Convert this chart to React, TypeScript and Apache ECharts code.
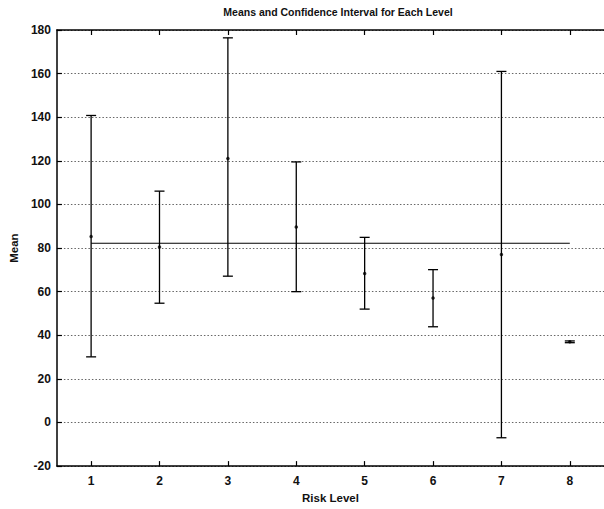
import React, { useEffect, useRef } from "react";
import * as echarts from "echarts";

const levels = [1, 2, 3, 4, 5, 6, 7, 8];
const means = [85.3, 80.5, 121.1, 89.7, 68.3, 57.1, 77, 37];
const lowers = [30.1, 54.7, 67.1, 60, 52, 43.9, -7, 36.6];
const uppers = [140.8, 106.1, 176.4, 119.5, 84.9, 70.1, 161, 37.4];
const overallMean = 82.2;
const xTicks = [1, 2, 3, 4, 5, 6, 7, 8];

const FONT = "Liberation Sans, Arial, Helvetica, sans-serif";

export default function App() {
  const ref = useRef<HTMLDivElement>(null);
  useEffect(() => {
    if (!ref.current) return;
    const chart = echarts.init(ref.current, undefined, { renderer: "svg" });
    const errData = levels.map((l, i) => [l, lowers[i], uppers[i]]);
    chart.setOption({
      animation: false,
      backgroundColor: "#ffffff",
      title: {
        text: "Means and Confidence Interval for Each Level",
        left: 333,
        textAlign: "center",
        top: 1,
        textStyle: { fontFamily: FONT, fontSize: 10.5, fontWeight: "bold", color: "#111" },
      },
      grid: { left: 53, right: -9, top: 30, bottom: 33 },
      xAxis: [
        {
          type: "value",
          min: 0.5,
          max: 8.5,
          name: "Risk Level",
          nameLocation: "middle",
          nameGap: 24,
          nameTextStyle: { fontFamily: FONT, fontSize: 11.5, fontWeight: "bold", color: "#111" },
          axisLine: { show: true, onZero: false, lineStyle: { color: "#000", width: 1.5 } },
          axisTick: { show: true, inside: true, length: 5, customValues: xTicks, lineStyle: { color: "#000", width: 1.2 } },
          axisLabel: {
            customValues: xTicks,
            margin: 9,
            fontFamily: FONT,
            fontSize: 12,
            fontWeight: "bold",
            color: "#111",
          },
          splitLine: { show: false },
        },
        {
          type: "value",
          position: "top",
          min: 0.5,
          max: 8.5,
          axisLine: { show: true, onZero: false, lineStyle: { color: "#000", width: 1.5 } },
          axisTick: { show: true, inside: true, length: 5, customValues: xTicks, lineStyle: { color: "#000", width: 1.2 } },
          axisLabel: { show: false },
          splitLine: { show: false },
        },
      ],
      yAxis: {
        type: "value",
        min: -20,
        max: 180,
        interval: 20,
        name: "Mean",
        nameLocation: "middle",
        nameGap: 33,
        nameTextStyle: { fontFamily: FONT, fontSize: 11.5, fontWeight: "bold", color: "#111" },
        axisLine: { show: true, onZero: false, lineStyle: { color: "#000", width: 1.5 } },
        axisTick: { show: true, inside: true, length: 5, lineStyle: { color: "#000", width: 1.2 } },
        axisLabel: { margin: 6, fontFamily: FONT, fontSize: 12, fontWeight: "bold", color: "#111" },
        splitLine: { show: true, lineStyle: { color: "#666", type: [1.5, 2], width: 1 } },
      },
      series: [
        {
          type: "line",
          data: [[1, overallMean], [8, overallMean]],
          symbol: "none",
          lineStyle: { color: "#000", width: 1.2 },
          z: 3,
        },
        {
          type: "custom",
          data: errData,
          encode: { x: 0, y: [1, 2] },
          renderItem: (params: any, api: any) => {
            const x = api.value(0);
            const lo = api.coord([x, api.value(1)]);
            const hi = api.coord([x, api.value(2)]);
            const hw = 5;
            const style = { stroke: "#000", lineWidth: 1.3 };
            return {
              type: "group",
              children: [
                { type: "line", shape: { x1: lo[0], y1: lo[1], x2: hi[0], y2: hi[1] }, style },
                { type: "line", shape: { x1: hi[0] - hw, y1: hi[1], x2: hi[0] + hw, y2: hi[1] }, style },
                { type: "line", shape: { x1: lo[0] - hw, y1: lo[1], x2: lo[0] + hw, y2: lo[1] }, style },
              ],
            };
          },
          z: 4,
        },
        {
          type: "scatter",
          data: levels.map((l, i) => [l, means[i]]),
          symbol: "circle",
          symbolSize: 3.5,
          itemStyle: { color: "#000" },
          z: 5,
        },
      ],
    });
    return () => chart.dispose();
  }, []);
  return (
    <div
      ref={ref}
      style={{ position: "absolute", left: 0, top: 0, width: 604, height: 509, overflow: "hidden" }}
    />
  );
}
